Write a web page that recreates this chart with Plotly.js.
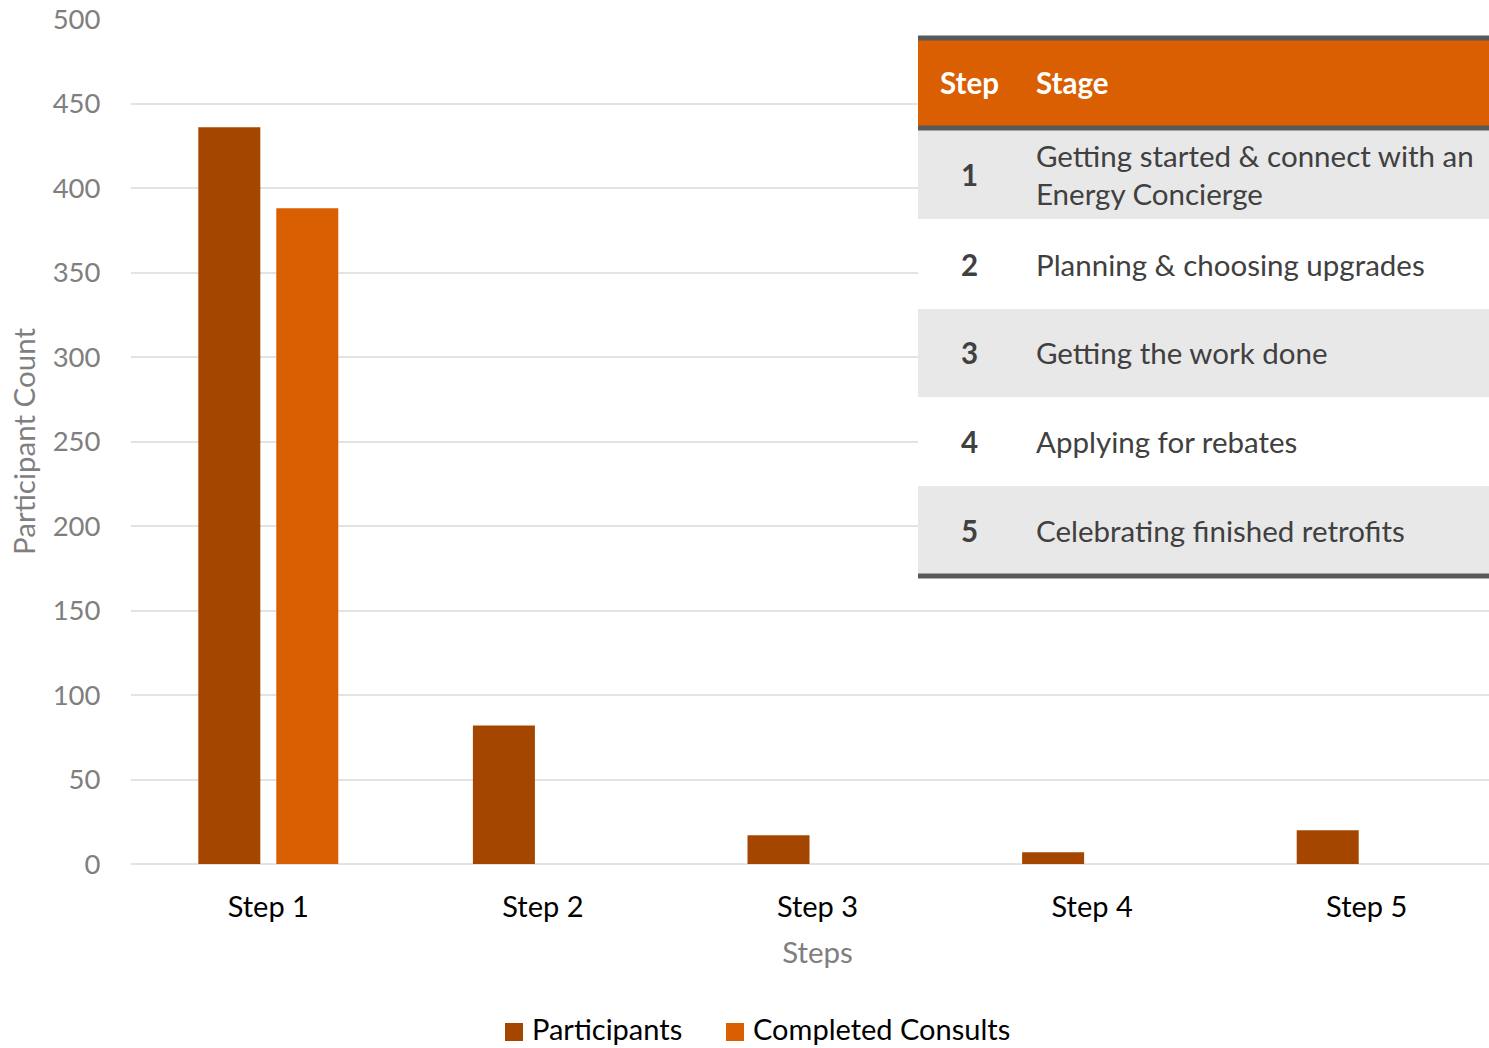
<!DOCTYPE html>
<html>
<head>
<meta charset="utf-8">
<script src="https://cdn.plot.ly/plotly-3.0.1.min.js"></script>
<style>html,body{margin:0;padding:0;background:#fff;overflow:hidden;width:1489px;height:1048px;}#chart{width:1504px;height:1048px;}</style>
</head>
<body>
<div id="chart"></div>
<script>
// ---- data ----
const steps = ["Step 1", "Step 2", "Step 3", "Step 4", "Step 5"];
const participants = [436, 82, 17, 7, 20];
const completedConsults = [388, 0, 0, 0, 0];
const seriesNames = ["Participants", "Completed Consults"];
const tableHeader = ["Step", "Stage"];
const tableSteps = ["1", "2", "3", "4", "5"];
const tableStages = [
  "Getting started & connect with an<br>Energy Concierge",
  "Planning & choosing upgrades",
  "Getting the work done",
  "Applying for rebates",
  "Celebrating finished retrofits"
];

// ---- layout helpers (pixel -> paper) ----
const W = 1504, H = 1048;
const M = {l: 131, r: 0, t: 19, b: 184};
const PW = W - M.l - M.r, PH = H - M.t - M.b;
const px = x => (x - M.l) / PW;
const py = y => (H - M.b - y) / PH;

const FONT = "Lato, 'Open Sans', sans-serif";
const orange = "#D95F02";
const brown = "#A54600";
const dark = "#595959";
const textGrey = "#404040";
const axisGrey = "#7F7F7F";
const TS = 29.5;

const shapes = [];
const annotations = [];
const tx0 = 918, tx1 = W;
// header
shapes.push({type:"rect", xref:"paper", yref:"paper", x0:px(tx0), x1:px(tx1), y0:py(127), y1:py(38), fillcolor:orange, line:{width:0}, layer:"above"});
shapes.push({type:"line", xref:"paper", yref:"paper", x0:px(tx0), x1:px(tx1), y0:py(38), y1:py(38), line:{color:dark, width:5}, layer:"above"});
annotations.push({xref:"paper", yref:"paper", x:px(969), y:py(83), text:"<b>"+tableHeader[0]+"</b>", showarrow:false, xanchor:"center", yanchor:"middle", font:{family:FONT, size:TS, color:"#ffffff"}});
annotations.push({xref:"paper", yref:"paper", x:px(1034), y:py(83), text:"<b>"+tableHeader[1]+"</b>", showarrow:false, xanchor:"left", yanchor:"middle", font:{family:FONT, size:TS, color:"#ffffff"}});
// rows
const rowEdges = [130, 219, 309, 397, 486, 575];
for (let i = 0; i < tableSteps.length; i++) {
  const y0 = rowEdges[i], y1 = rowEdges[i+1];
  shapes.push({type:"rect", xref:"paper", yref:"paper", x0:px(tx0), x1:px(tx1), y0:py(y1), y1:py(y0), fillcolor: i % 2 === 0 ? "#E8E8E8" : "#FFFFFF", line:{width:0}, layer:"above"});
  const yc = (y0 + y1) / 2;
  annotations.push({xref:"paper", yref:"paper", x:px(969), y:py(yc), text:"<b>"+tableSteps[i]+"</b>", showarrow:false, xanchor:"center", yanchor:"middle", font:{family:FONT, size:TS, color:textGrey}});
  annotations.push({xref:"paper", yref:"paper", x:px(1034), y:py(yc), text:tableStages[i], showarrow:false, xanchor:"left", yanchor:"middle", align:"left", font:{family:FONT, size:TS, color:textGrey}});
}
shapes.push({type:"line", xref:"paper", yref:"paper", x0:px(tx0), x1:px(tx1), y0:py(128), y1:py(128), line:{color:dark, width:5}, layer:"above"});
shapes.push({type:"line", xref:"paper", yref:"paper", x0:px(tx0), x1:px(tx1), y0:py(576), y1:py(576), line:{color:dark, width:5}, layer:"above"});

// custom legend (larger swatches than Plotly's default)
const legendItems = [
  {sx:505, tx:531, color:brown, name:seriesNames[0]},
  {sx:726, tx:752, color:orange, name:seriesNames[1]}
];
legendItems.forEach(it => {
  shapes.push({type:"rect", xref:"paper", yref:"paper", x0:px(it.sx), x1:px(it.sx+18), y0:py(1041), y1:py(1023), fillcolor:it.color, line:{width:0}});
  annotations.push({xref:"paper", yref:"paper", x:px(it.tx), y:py(1047), text:it.name, showarrow:false, xanchor:"left", yanchor:"bottom", borderpad:0, font:{family:FONT, size:29, color:"#000"}});
});

const traces = [
  {type:"bar", name:seriesNames[0], x:steps, y:participants, marker:{color:brown}},
  {type:"bar", name:seriesNames[1], x:steps, y:completedConsults, marker:{color:orange}}
];

const layout = {
  width: W, height: H,
  margin: M,
  paper_bgcolor: "#fff", plot_bgcolor: "#fff",
  font: {family: FONT, size: 27, color: "#000"},
  barmode: "group",
  bargap: 0.432,
  bargroupgap: 0.205,
  showlegend: false,
  xaxis: {
    type:"category", range:[-0.5, 4.5], automargin:false,
    tickfont:{family:FONT, size:29, color:"#000"},
    showgrid:false, zeroline:false, showline:false, ticks:"outside", ticklen:17, tickcolor:"rgba(0,0,0,0)",
    title:{text:"Steps", font:{family:FONT, size:TS, color:axisGrey}, standoff:20}
  },
  yaxis: {
    range:[0, 500], dtick:50, tick0:0, automargin:false,
    tickfont:{family:FONT, size:27.5, color:axisGrey},
    gridcolor:"#E3E3E3", gridwidth:2, zeroline:true, zerolinecolor:"#E3E3E3", zerolinewidth:2,
    showline:false, ticks:"outside", ticklen:24, tickcolor:"rgba(0,0,0,0)",
    title:{text:"Participant Count", font:{family:FONT, size:TS, color:axisGrey}, standoff:8}
  },
  shapes: shapes,
  annotations: annotations
};

Plotly.newPlot("chart", traces, layout, {displayModeBar:false, staticPlot:true});
</script>
</body>
</html>
